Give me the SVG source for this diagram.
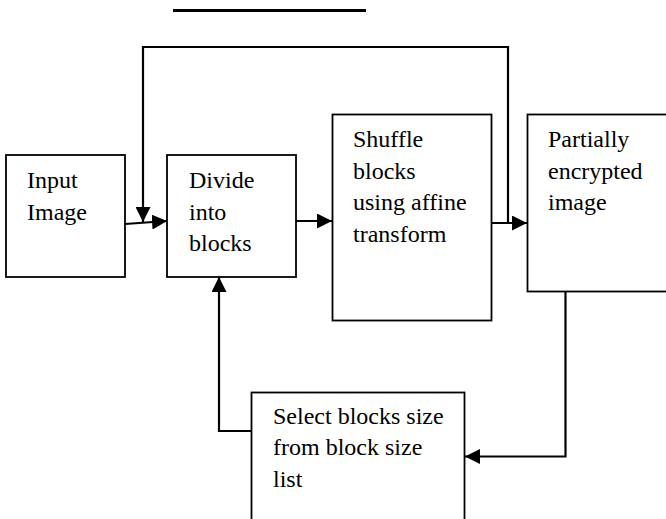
<svg xmlns="http://www.w3.org/2000/svg" width="666" height="519" viewBox="0 0 666 519">
<defs>
<style>
.box{fill:#fff;stroke:#000;stroke-width:1.8}
.t{font-size:24px;fill:#000}
.c{fill:none;stroke:#000;stroke-width:2.2}
</style>
<marker id="ah" markerUnits="userSpaceOnUse" markerWidth="16" markerHeight="15" refX="15" refY="7.5" orient="auto">
<path d="M0,0 L15,7.5 L0,15 z" fill="#000"/>
</marker>
</defs>
<rect width="666" height="519" fill="#fff"/>
<line x1="173" y1="10.5" x2="366" y2="10.5" stroke="#000" stroke-width="3"/>
<g font-family="Liberation Serif, Times New Roman, DejaVu Serif, serif">
<g id="input">
<rect class="box" x="6" y="155" width="119" height="122"/>
<text class="t" x="27" y="188">Input</text>
<text class="t" x="27" y="220">Image</text>
</g>
<g id="divide">
<rect class="box" x="167" y="155" width="129" height="122"/>
<text class="t" x="189" y="188">Divide</text>
<text class="t" x="189" y="220">into</text>
<text class="t" x="189" y="251">blocks</text>
</g>
<g id="shuffle">
<rect class="box" x="332.5" y="114.5" width="159" height="206"/>
<text class="t" x="353" y="147">Shuffle</text>
<text class="t" x="353" y="179">blocks</text>
<text class="t" x="353" y="210">using affine</text>
<text class="t" x="353" y="242">transform</text>
</g>
<g id="partial">
<rect class="box" x="527.5" y="114.5" width="145" height="177"/>
<text class="t" x="548" y="147">Partially</text>
<text class="t" x="548" y="179">encrypted</text>
<text class="t" x="548" y="210">image</text>
</g>
<g id="select">
<rect class="box" x="251.5" y="392.5" width="213" height="140"/>
<text class="t" x="273" y="424">Select blocks size</text>
<text class="t" x="273" y="455">from block size</text>
<text class="t" x="273" y="487">list</text>
</g>
</g>
<g id="connectors">
<path class="c" d="M125,224 L167,221" marker-end="url(#ah)"/>
<path class="c" d="M296,221 L332,221" marker-end="url(#ah)"/>
<path class="c" d="M492,223 L527,223" marker-end="url(#ah)"/>
<path class="c" d="M508,223 V47 H143 V222" marker-end="url(#ah)"/>
<path class="c" d="M565.5,292 V456.5 H465" marker-end="url(#ah)"/>
<path class="c" d="M251.5,431 H219 V277" marker-end="url(#ah)"/>
</g>
</svg>
